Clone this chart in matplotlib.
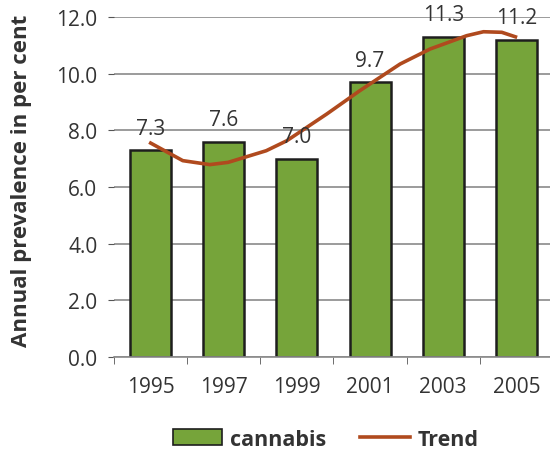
import matplotlib.pyplot as plt
from matplotlib.patches import Patch
from matplotlib.lines import Line2D

years = ['1995', '1997', '1999', '2001', '2003', '2005']
cannabis = [7.3, 7.6, 7.0, 9.7, 11.3, 11.2]

# trend line (x in category units)
trend_x = [-0.02, 0.44, 0.81, 1.06, 1.58, 1.86, 2.41, 2.86, 3.41, 3.82, 4.32, 4.55, 4.80, 5.01]
trend_y = [7.58, 6.93, 6.79, 6.87, 7.28, 7.63, 8.58, 9.40, 10.34, 10.87, 11.34, 11.48, 11.46, 11.28]

green = '#76a43a'
brown = '#b04a1e'
txt = '#333333'

plt.rcParams['font.family'] = ['Open Sans', 'DejaVu Sans']

fig = plt.figure(figsize=(5.5, 4.56), dpi=100)
ax = fig.add_axes([114 / 550, 98 / 456, 439 / 550, 340 / 456])

x = range(len(years))
ax.bar(x, cannabis, width=0.56, color=green, edgecolor='#1e1e1e', linewidth=1.8, zorder=2)
ax.plot(trend_x, trend_y, color=brown, lw=2.6, zorder=3, solid_capstyle='butt')

for i, v in enumerate(cannabis):
    ax.text(i, v + 0.4, '%.1f' % v, ha='center', va='bottom', fontsize=15, color=txt, zorder=4)

ax.set_xlim(-0.5, 5.5)
ax.set_ylim(0, 12)
ax.set_yticks([0, 2, 4, 6, 8, 10, 12])
ax.set_yticklabels(['%.1f' % t for t in [0, 2, 4, 6, 8, 10, 12]])
ax.yaxis.grid(True, color='#8a8a8a', lw=1.2, zorder=0)
ax.set_axisbelow(True)

ax.set_xticks(list(x))
ax.set_xticklabels(years)
ax.set_xticks([i - 0.5 for i in range(6)], minor=True)
ax.tick_params(axis='x', which='major', length=0, pad=14, labelsize=15, labelcolor=txt)
ax.tick_params(axis='x', which='minor', length=5, color='#555555', direction='out')
ax.tick_params(axis='y', length=4, color='#555555', pad=8, labelsize=15, labelcolor=txt)

for s in ['top', 'right', 'left']:
    ax.spines[s].set_visible(False)
ax.spines['bottom'].set_color('#8a8a8a')
ax.spines['bottom'].set_linewidth(1.2)

fig.text(22 / 550, 0.603, 'Annual prevalence in per cent', rotation=90, ha='center', va='center',
         fontsize=16, fontweight='bold', color=txt)

handles = [Patch(facecolor=green, edgecolor='#1e1e1e', lw=1.2),
           Line2D([0], [0], color=brown, lw=2.6)]
fig.legend(handles, ['cannabis', 'Trend'], loc='center', bbox_to_anchor=(0.592, 0.035), ncol=2,
           frameon=False, handlelength=2.3, handleheight=0.75, handletextpad=0.35, columnspacing=1.6,
           prop={'size': 15.5, 'weight': 'bold'}, labelcolor=txt)

fig.savefig('out.png', dpi=100)
